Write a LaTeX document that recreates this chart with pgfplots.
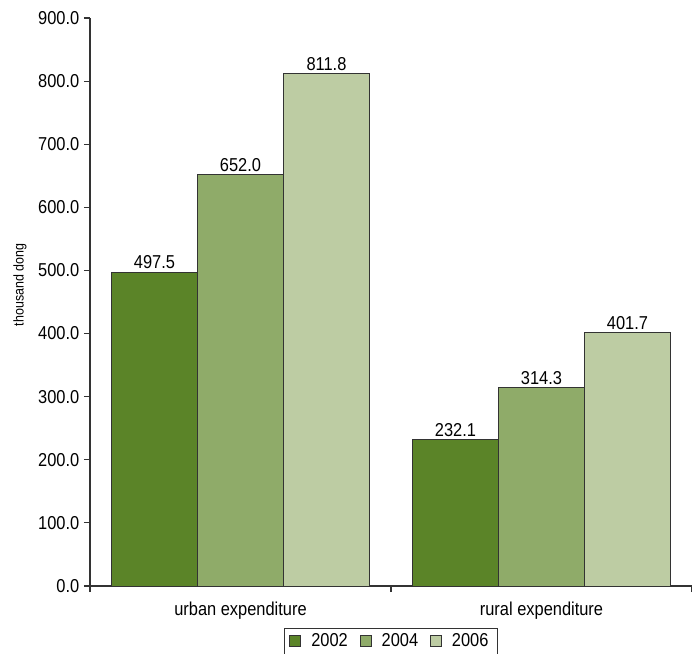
\documentclass[border=0pt]{standalone}
\usepackage{fontspec}
\setmainfont{Liberation Sans}[FakeStretch=0.88]
\usepackage{pgfplots}
\pgfplotsset{compat=1.18}

\definecolor{gA}{RGB}{91,132,40}
\definecolor{gB}{RGB}{143,171,105}
\definecolor{gC}{RGB}{189,204,163}
\definecolor{axline}{RGB}{51,51,51}

\begin{document}
\begin{tikzpicture}[x=0.75pt,y=0.75pt]
\begin{axis}[
  width=451.5pt, height=426pt, scale only axis,
  ybar=0pt, bar width=64.5pt,
  xmin=-0.5, xmax=1.5, ymin=0, ymax=900,
  axis x line*=bottom, axis y line*=left,
  axis line style={axline, line width=1pt},
  tick style={axline, line width=0.9pt},
  tick align=outside, major tick length=4.5pt,
  xtick={-0.5,0.5,1.5},
  xticklabels={urban expenditure, rural expenditure},
  x tick label as interval,
  ytick={0,100,...,900},
  font=\fontsize{14pt}{16pt}\selectfont,
  /pgf/number format/assume math mode=true,
  yticklabel style={/pgf/number format/.cd, fixed, fixed zerofill, precision=1},
  xticklabel style={yshift=-4pt},
  ylabel={thousand dong},
  ylabel style={font=\fontsize{10.6pt}{12pt}\selectfont, at={(axis description cs:0,0.5)}, anchor=center, xshift=12.75pt, yshift=52.5pt},
  nodes near coords,
  nodes near coords style={/pgf/number format/.cd, fixed, fixed zerofill, precision=1, /tikz/.cd, inner sep=2pt},
  every node near coord/.append style={font=\fontsize{14pt}{16pt}\selectfont},
  legend columns=3,
  legend style={at={(axis description cs:0.5,0)}, anchor=north, yshift=-31.5pt,
    draw=axline, line width=0.8pt, font=\fontsize{14pt}{16pt}\selectfont,
    inner xsep=4pt, inner ysep=2pt,
    nodes={inner xsep=3pt},
    /tikz/every odd column/.append style={column sep=4.5pt},
    /tikz/every even column/.append style={column sep=6pt}},
  legend image code/.code={\draw[#1, draw=axline, line width=0.6pt] (0pt,-4.125pt) rectangle (8.25pt,4.125pt);},
]
\addplot[fill=gA, draw=axline, line width=0.7pt] coordinates {(0,497.5) (1,232.1)};
\addplot[fill=gB, draw=axline, line width=0.7pt] coordinates {(0,652.0) (1,314.3)};
\addplot[fill=gC, draw=axline, line width=0.7pt] coordinates {(0,811.8) (1,401.7)};
\legend{2002,2004,2006}
\end{axis}
\pgfresetboundingbox
\path[use as bounding box] ([xshift=-67.5pt,yshift=-50.25pt]current axis.south west) rectangle ([yshift=13.5pt]current axis.north east);
\end{tikzpicture}
\end{document}
